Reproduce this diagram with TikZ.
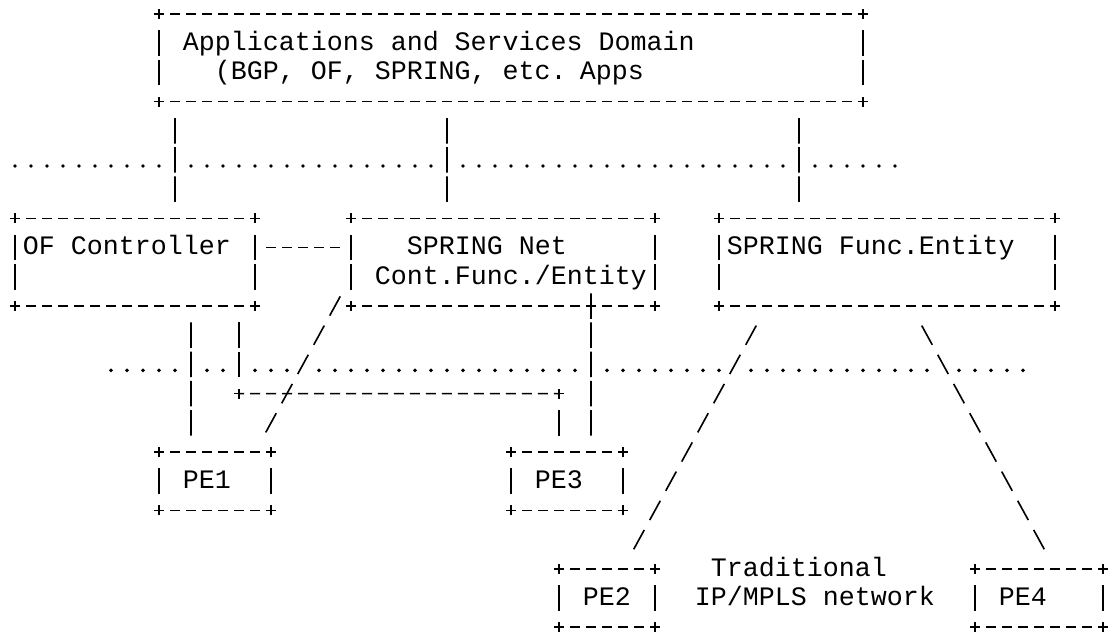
\documentclass[tikz,border=0pt]{standalone}
\usepackage{fontspec}
\setmonofont{Liberation Mono}
\newcommand\rowstrut{\rule[-5.2pt]{0pt}{20.74pt}}
\newcommand\monospaces{\spaceskip=11.37pt\relax}
\newcommand\plusat[1]{\draw (#1) +(-0.125cm,0) -- +(0.125cm,0) +(0,-0.125cm) -- +(0,0.125cm);}
\newcommand\asciibox[1]{%
  \draw[hdash] (#1.north west) -- (#1.north east);
  \draw[hdash] (#1.south west) -- (#1.south east);
  \draw[vlink] (#1.north west) -- (#1.south west);
  \draw[vlink] (#1.north east) -- (#1.south east);
  \foreach \corner in {north west,north east,south west,south east}
    {\plusat{#1.\corner}}}

\begin{document}
\begin{tikzpicture}[x=0.4cm, y=0.73cm, line width=1.15pt,
    box/.style={rectangle, inner xsep=0.2cm, inner ysep=0pt, outer sep=0pt, align=left,
      font=\ttfamily\fontsize{18.95pt}{20.74pt}\selectfont,
      execute at begin node=\monospaces\noindent\rowstrut,
      execute at end node=\rowstrut},
    hdash/.style={dash pattern=on 0.25cm off 0.15cm, dash phase=0.125cm},
    hlink/.style={hdash, dash phase=0.25cm, shorten <=0.125cm, shorten >=0.125cm},
    vlink/.style={dash pattern=on 0.6375cm off 0.0925cm, shorten <=0.41cm, shorten >=0.41cm},
    slash/.style={dash pattern=on 0.55cm off 0.2824cm, shorten <=-0.275cm, shorten >=-0.275cm},
    sepdots/.style={line width=2.8pt, line cap=round, dash pattern=on 0pt off 0.4cm}
  ]
\useasboundingbox (-0.375cm,0.35cm) rectangle (27.475cm,-15.6cm);

\node[box, minimum width=17.6cm, minimum height=2.19cm, text width=17.2cm] (apps) at (31,-1.5)
  {\hspace*{0.4cm}Applications and Services Domain\\\hspace*{1.2cm}(BGP, OF, SPRING, etc. Apps};
\node[box, minimum width=6cm, minimum height=2.19cm, text width=5.6cm] (ofc) at (7.5,-8.5)
  {OF Controller\\};
\node[box, minimum width=7.6cm, minimum height=2.19cm, text width=7.2cm] (snet) at (30.5,-8.5)
  {\hspace*{1.2cm}SPRING Net\\\hspace*{0.4cm}Cont.Func./Entity};
\node[box, minimum width=8.4cm, minimum height=2.19cm, text width=8cm] (sfe) at (54.5,-8.5)
  {SPRING Func.Entity\\};
\node[box, minimum width=2.8cm, minimum height=1.46cm, text width=2.4cm] (pe1) at (12.5,-16)
  {\hspace*{0.4cm}PE1};
\node[box, minimum width=2.8cm, minimum height=1.46cm, text width=2.4cm] (pe3) at (34.5,-16)
  {\hspace*{0.4cm}PE3};
\node[box, minimum width=2.4cm, minimum height=1.46cm, text width=2cm] (pe2) at (37,-20)
  {\hspace*{0.4cm}PE2};
\node[box, minimum width=3.2cm, minimum height=1.46cm, text width=2.8cm] (pe4) at (64,-20)
  {\hspace*{0.4cm}PE4};
\node[box, inner xsep=0pt, text width=6.2cm, anchor=west] (net) at (42.5,-19.5)
  {\hspace*{0.4cm}Traditional\\IP/MPLS network};

\foreach \n in {apps,ofc,snet,sfe,pe1,pe2,pe3,pe4}
  {\asciibox{\n}}

\foreach \a/\b in {0/9,11/26,28/48,50/55}
  \draw[sepdots] ([yshift=-0.15cm]\a,-5) -- ([yshift=-0.15cm]\b+0.05,-5);
\foreach \a/\b in {6/10,12/13,15/17,19/35,37/44,46/57,59/63}
  \draw[sepdots] ([yshift=-0.15cm]\a,-12) -- ([yshift=-0.15cm]\b+0.05,-12);

\draw[vlink] ([xshift=0.4cm]apps.south west) -- ([xshift=4cm]ofc.north west);
\draw[vlink] ([xshift=7.2cm]apps.south west) -- ([xshift=2.4cm]snet.north west);
\draw[vlink] ([xshift=16cm]apps.south west) -- ([xshift=2cm]sfe.north west);
\draw[hlink] ([yshift=-0.73cm]ofc.north east) -- ([yshift=-0.73cm]snet.north west);

\coordinate (ofcdrop) at ([xshift=5.6cm,yshift=-2.19cm]ofc.south west);
\coordinate (pe3rise) at ([xshift=1.2cm,yshift=1.46cm]pe3.north west);
\draw[vlink] ([xshift=4.4cm]ofc.south west) -- ([xshift=0.8cm]pe1.north west);
\draw[vlink] ([xshift=5.6cm]ofc.south west) -- (ofcdrop);
\draw[hdash] (ofcdrop) -- (pe3rise);
\draw[vlink] (pe3rise) -- ([xshift=1.2cm]pe3.north west);
\plusat{ofcdrop}
\plusat{pe3rise}
\draw[vlink, shorten <=-0.31875cm] ([xshift=6cm]snet.south west) -- ([xshift=2cm]pe3.north west);

\draw[slash] ([xshift=-0.4cm]snet.south west) -- ([yshift=0.73cm]pe1.north east);
\draw[slash] ([xshift=0.8cm,yshift=-0.73cm]sfe.south west) -- ([xshift=-0.4cm,yshift=0.73cm]pe2.north east);
\draw[slash] ([xshift=5.2cm,yshift=-0.73cm]sfe.south west) -- ([xshift=1.6cm,yshift=0.73cm]pe4.north west);
\end{tikzpicture}
\end{document}
